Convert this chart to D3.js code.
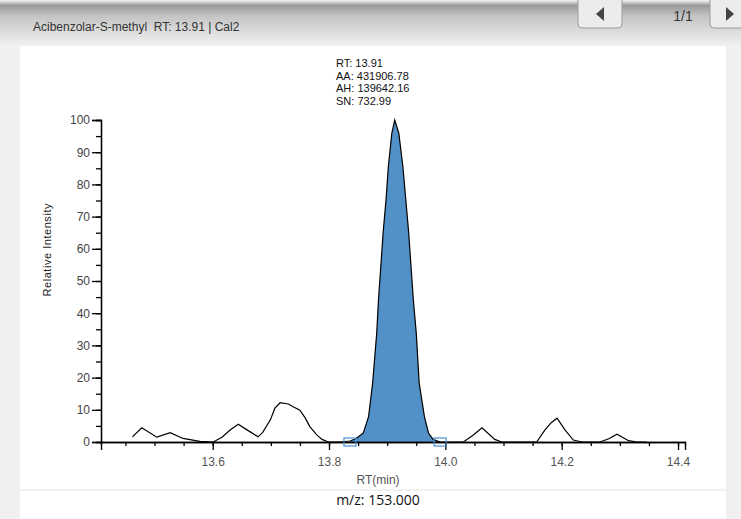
<!DOCTYPE html>
<html>
<head>
<meta charset="utf-8">
<script src="https://cdn.jsdelivr.net/npm/d3@7"></script>
<style>
  body { margin: 0; background: #f0f0f0; }
  svg { display: block; }
</style>
</head>
<body>
<div class="main"></div>
<script>
// chromatogram trace
var rtValues = [13.462, 13.478, 13.504, 13.527, 13.549, 13.578, 13.601, 13.616, 13.630, 13.644,
  13.657, 13.678, 13.686, 13.699, 13.707, 13.716, 13.730, 13.740, 13.750, 13.759,
  13.767, 13.779, 13.788, 13.799, 13.819, 13.836, 13.846, 13.859, 13.868, 13.875,
  13.882, 13.885, 13.889, 13.893, 13.898, 13.902, 13.908, 13.913, 13.920, 13.927,
  13.932, 13.937, 13.941, 13.945, 13.950, 13.955, 13.964, 13.971, 13.979, 13.991,
  14.031, 14.047, 14.063, 14.085, 14.097, 14.157, 14.171, 14.182, 14.192, 14.206,
  14.220, 14.235, 14.266, 14.281, 14.295, 14.315, 14.329, 14.346];
var intensityValues = [1.6, 4.4, 1.5, 2.9, 1.1, 0.2, 0.0, 1.5, 3.7, 5.5,
  4.0, 1.6, 3.0, 6.8, 10.5, 12.2, 11.8, 10.8, 9.9, 7.5,
  4.8, 2.2, 0.8, 0.0, 0.0, 0.3, 1.0, 2.8, 7.9, 18.3,
  33.8, 44.0, 54.4, 64.9, 75.2, 85.5, 95.9, 100, 95.9, 85.5,
  75.2, 64.9, 54.4, 44.0, 33.8, 18.3, 7.9, 2.8, 0.8, 0.0,
  0.0, 2.0, 4.4, 0.8, 0.0, 0.0, 3.7, 6.0, 7.4, 3.7,
  0.6, 0.0, 0.0, 1.0, 2.4, 0.4, 0.0, 0.0];

// integration limits of the peak
var peakStart = 13.836;
var peakEnd = 13.991;

var peakLabels = ["RT: 13.91", "AA: 431906.78", "AH: 139642.16", "SN: 732.99"];
var xTicks = [13.6, 13.8, 14.0, 14.2, 14.4];
var yTicks = [0, 10, 20, 30, 40, 50, 60, 70, 80, 90, 100];
var titleText = "Acibenzolar-S-methyl  RT: 13.91 | Cal2";
var pageText = "1/1";
var massText = "m/z: 153.000";

var data = rtValues.map(function(d, i) {
  return { rt: d, val: intensityValues[i] };
});

var fullwidth = 741, fullheight = 519;
var svg = d3.select(".main")
  .append("svg")
  .attr("width", fullwidth)
  .attr("height", fullheight);

// header gradient
var defs = svg.append("defs");
var grad = defs.append("linearGradient")
  .attr("id", "hdr")
  .attr("x1", 0).attr("y1", 0).attr("x2", 0).attr("y2", 1);
grad.append("stop").attr("offset", "0%").attr("stop-color", "#f4f4f4");
grad.append("stop").attr("offset", "12%").attr("stop-color", "#9a9a9a");
grad.append("stop").attr("offset", "35%").attr("stop-color", "#c4c4c4");
grad.append("stop").attr("offset", "100%").attr("stop-color", "#f2f2f2");

// white panel
svg.append("rect")
  .attr("x", 20).attr("y", 40)
  .attr("width", 706).attr("height", 479)
  .attr("fill", "#ffffff");

svg.append("rect")
  .attr("x", 0).attr("y", 0)
  .attr("width", fullwidth).attr("height", 46)
  .attr("fill", "url(#hdr)");

svg.append("text")
  .attr("x", 33).attr("y", 31)
  .attr("font-family", "Liberation Sans, Arial, sans-serif")
  .attr("font-size", 12)
  .attr("fill", "#333")
  .attr("xml:space", "preserve")
  .text(titleText);

// paging buttons
function button(x0, w, dir) {
  var g = svg.append("g");
  g.append("path")
    .attr("d", "M" + x0 + ",0 V24 q0,4 4,4 H" + (x0 + w - 4) + " q4,0 4,-4 V0")
    .attr("fill", "#ececec")
    .attr("stroke", "#9a9a9a");
  var cx = x0 + w / 2;
  var pts = dir < 0
    ? [[cx + 4, 7], [cx + 4, 21], [cx - 4, 14]]
    : [[cx - 4, 7], [cx - 4, 21], [cx + 4, 14]];
  g.append("polygon")
    .attr("points", pts.map(function(p) { return p.join(","); }).join(" "))
    .attr("fill", "#444");
}
button(578, 44, -1);
button(710, 40, 1);
svg.append("text")
  .attr("x", 683).attr("y", 21)
  .attr("text-anchor", "middle")
  .attr("font-family", "Liberation Sans, Arial, sans-serif")
  .attr("font-size", 14)
  .attr("fill", "#333")
  .text(pageText);

// bottom divider
svg.append("line")
  .attr("x1", 20).attr("x2", 726)
  .attr("y1", 490).attr("y2", 490)
  .attr("stroke", "#e4e4e4");

// scales
var x = d3.scaleLinear().domain([13.408, 14.412]).range([101, 685]);
var y = d3.scaleLinear().domain([0, 100]).range([442, 120]);

var chart = svg.append("g");

// filled peak
var peakData = data.filter(function(d) { return d.rt >= peakStart && d.rt <= peakEnd; });
chart.append("path")
  .datum(peakData)
  .attr("fill", "#5290c8")
  .attr("stroke", "none")
  .attr("d", d3.area()
    .x(function(d) { return x(d.rt); })
    .y0(y(0))
    .y1(function(d) { return y(d.val); }));

// axes
var fontAx = "Liberation Sans, Arial, sans-serif";
var yAxis = chart.append("g")
  .attr("transform", "translate(101,0)")
  .call(d3.axisLeft(y).tickValues(d3.range(0, 101, 5)).tickSize(5).tickFormat(""));
yAxis.call(function(g) {
  g.append("g").call(d3.axisLeft(y).tickValues(yTicks).tickSize(9).tickPadding(2));
});
yAxis.selectAll("path.domain").attr("stroke", "#000").attr("stroke-width", 1.3);
yAxis.selectAll("line").attr("stroke", "#000").attr("stroke-width", 1.3);
yAxis.selectAll("text")
  .attr("font-family", fontAx).attr("font-size", 12).attr("fill", "#444");

var xAxis = chart.append("g")
  .attr("transform", "translate(0,442)")
  .call(d3.axisBottom(x).tickValues(d3.range(13.45, 14.41, 0.05)).tickSize(4).tickFormat(""));
xAxis.call(function(g) {
  g.append("g").call(d3.axisBottom(x).tickValues(xTicks).tickSize(8).tickPadding(7)
    .tickFormat(d3.format(".1f")));
});
xAxis.selectAll("path.domain").attr("stroke", "#000").attr("stroke-width", 1.3);
xAxis.selectAll("line").attr("stroke", "#000").attr("stroke-width", 1.3);
xAxis.selectAll("text")
  .attr("font-family", fontAx).attr("font-size", 12).attr("fill", "#555");

// trace line
chart.append("path")
  .datum(data)
  .attr("fill", "none")
  .attr("stroke", "#000")
  .attr("stroke-width", 1.2)
  .attr("d", d3.line()
    .x(function(d) { return x(d.rt); })
    .y(function(d) { return y(d.val); }));

// integration markers
[peakStart, peakEnd].forEach(function(t) {
  chart.append("rect")
    .attr("x", x(t) - 6).attr("y", y(0) - 4)
    .attr("width", 12).attr("height", 8)
    .attr("fill", "none")
    .attr("stroke", "#4d8ed0")
    .attr("stroke-width", 1.2);
});

// axis titles
chart.append("text")
  .attr("transform", "translate(51,250) rotate(-90)")
  .attr("text-anchor", "middle")
  .attr("font-family", fontAx)
  .attr("font-size", 11)
  .attr("textLength", 93)
  .attr("fill", "#222")
  .text("Relative Intensity");

chart.append("text")
  .attr("x", 378).attr("y", 484)
  .attr("text-anchor", "middle")
  .attr("font-family", fontAx)
  .attr("font-size", 12)
  .attr("fill", "#555")
  .text("RT(min)");

svg.append("text")
  .attr("x", 378).attr("y", 505)
  .attr("text-anchor", "middle")
  .attr("font-family", "Open Sans, DejaVu Sans, sans-serif")
  .attr("font-size", 14)
  .attr("fill", "#111")
  .text(massText);

// peak annotation
var ann = chart.append("g")
  .attr("font-family", fontAx)
  .attr("font-size", 11)
  .attr("fill", "#111");
peakLabels.forEach(function(t, i) {
  ann.append("text")
    .attr("x", 336)
    .attr("y", 67 + i * 12.5)
    .text(t);
});
</script>
</body>
</html>
